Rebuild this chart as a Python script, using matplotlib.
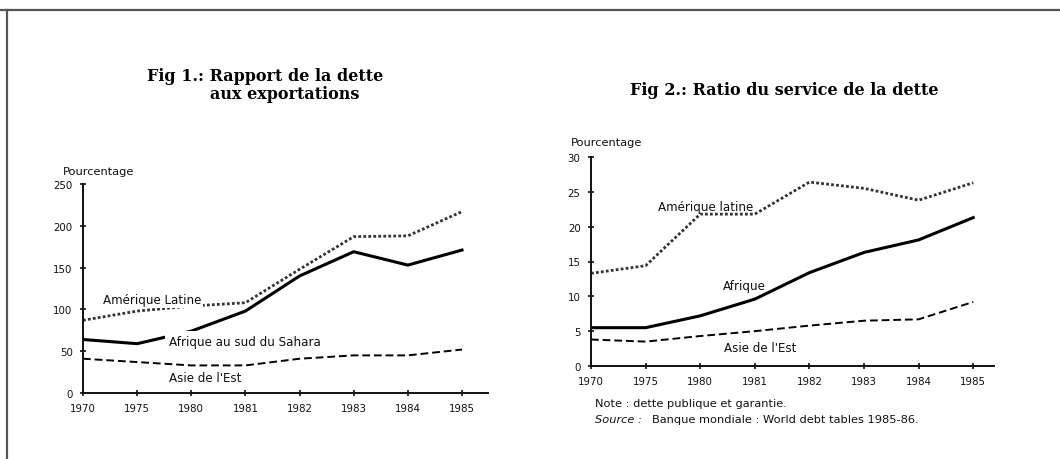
import numpy as np
import matplotlib.pyplot as plt
from matplotlib.lines import Line2D

years = ['1970', '1975', '1980', '1981', '1982', '1983', '1984', '1985']

# Fig 1 : dette / exportations (%)
latam1 = [87, 98, 104, 108, 148, 187, 188, 217]
afrique1 = [64, 59, 74, 98, 140, 169, 153, 171]
asie1 = [41, 37, 33, 33, 41, 45, 45, 52]

# Fig 2 : service de la dette (%)
latam2 = [13.3, 14.4, 21.8, 21.8, 26.4, 25.5, 23.8, 26.3]
afrique2 = [5.5, 5.5, 7.2, 9.6, 13.4, 16.3, 18.1, 21.3]
asie2 = [3.8, 3.5, 4.3, 5.0, 5.8, 6.5, 6.7, 9.2]

plt.rcParams['font.family'] = ['DejaVu Sans']
x = np.arange(len(years))

fig = plt.figure(figsize=(10.6, 4.6), dpi=100)
fig.patch.set_facecolor('white')

# cadre
fig.add_artist(Line2D([0, 1], [1 - 11/460, 1 - 11/460], transform=fig.transFigure, color='#555555', lw=1.6))
fig.add_artist(Line2D([7/1060, 7/1060], [0, 1 - 11/460], transform=fig.transFigure, color='#555555', lw=1.6))

dotted = (0, (1, 0.8))
title_font = dict(family='DejaVu Serif', fontweight='bold', fontsize=11.5)
lab = dict(fontsize=8.6, color='#111111')
small = dict(fontsize=8.2, color='#111111')


def style(ax, ymax, step, xmax):
    ax.set_xlim(0, xmax)
    ax.set_ylim(0, ymax)
    ax.set_xticks(x)
    ax.set_xticklabels(years)
    ax.set_yticks(np.arange(0, ymax + 1, step))
    for s in ['top', 'right']:
        ax.spines[s].set_visible(False)
    for s in ['left', 'bottom']:
        ax.spines[s].set_linewidth(1.4)
        ax.spines[s].set_color('#111111')
    ax.tick_params(direction='inout', length=5, width=1.2, labelsize=7.4, pad=5, colors='#111111')
    ax.set_facecolor('none')


# ---- Fig 1
ax1 = fig.add_axes([83/1060, 66/460, 405/1060, 209/460])
ax1.plot(x, latam1, color='#333333', lw=2.0, ls=dotted, zorder=2)
ax1.plot(x, afrique1, color='black', lw=2.2, zorder=2)
ax1.plot(x, asie1, color='black', lw=1.4, ls=(0, (4, 2)), zorder=2)
style(ax1, 250, 50, 7.48)
ax1.text(0.37, 111.5, 'Amérique Latine', va='center', ha='left',
         bbox=dict(facecolor='white', edgecolor='none', pad=1.2), zorder=3, **lab)
ax1.text(1.58, 62, 'Afrique au sud du Sahara', va='center', ha='left',
         bbox=dict(facecolor='white', edgecolor='none', pad=2.5), zorder=3, **lab)
ax1.text(1.58, 18, "Asie de l'Est", va='center', ha='left', **lab)
fig.text(63/1060, 1 - 172/460, 'Pourcentage', va='center', ha='left', **small)
fig.text(147/1060, 1 - 81/460, 'Fig 1.: Rapport de la dette', va='baseline', ha='left', **title_font)
fig.text(210/1060, 1 - 99/460, 'aux exportations', va='baseline', ha='left', **title_font)

# ---- Fig 2
ax2 = fig.add_axes([591/1060, 93/460, 403/1060, 209/460])
ax2.plot(x, latam2, color='#333333', lw=2.0, ls=dotted)
ax2.plot(x, afrique2, color='black', lw=2.2)
ax2.plot(x, asie2, color='black', lw=1.4, ls=(0, (4, 2)))
style(ax2, 30, 5, 7.38)
ax2.text(1.23, 22.9, 'Amérique latine', va='center', ha='left', **lab)
ax2.text(2.42, 11.5, 'Afrique', va='center', ha='left', **lab)
ax2.text(2.44, 2.6, "Asie de l'Est", va='center', ha='left', **lab)
fig.text(571/1060, 1 - 143/460, 'Pourcentage', va='center', ha='left', **small)
fig.text(630/1060, 1 - 95/460, 'Fig 2.: Ratio du service de la dette', va='baseline', ha='left', **title_font)

fig.text(595/1060, 1 - 404/460, 'Note : dette publique et garantie.', va='center', ha='left', **small)
fig.text(595/1060, 1 - 420/460, 'Source :', va='center', ha='left', style='italic', **small)
fig.text(652/1060, 1 - 420/460, 'Banque mondiale : World debt tables 1985-86.', va='center', ha='left', **small)

fig.savefig('out.png', dpi=100, facecolor='white')
